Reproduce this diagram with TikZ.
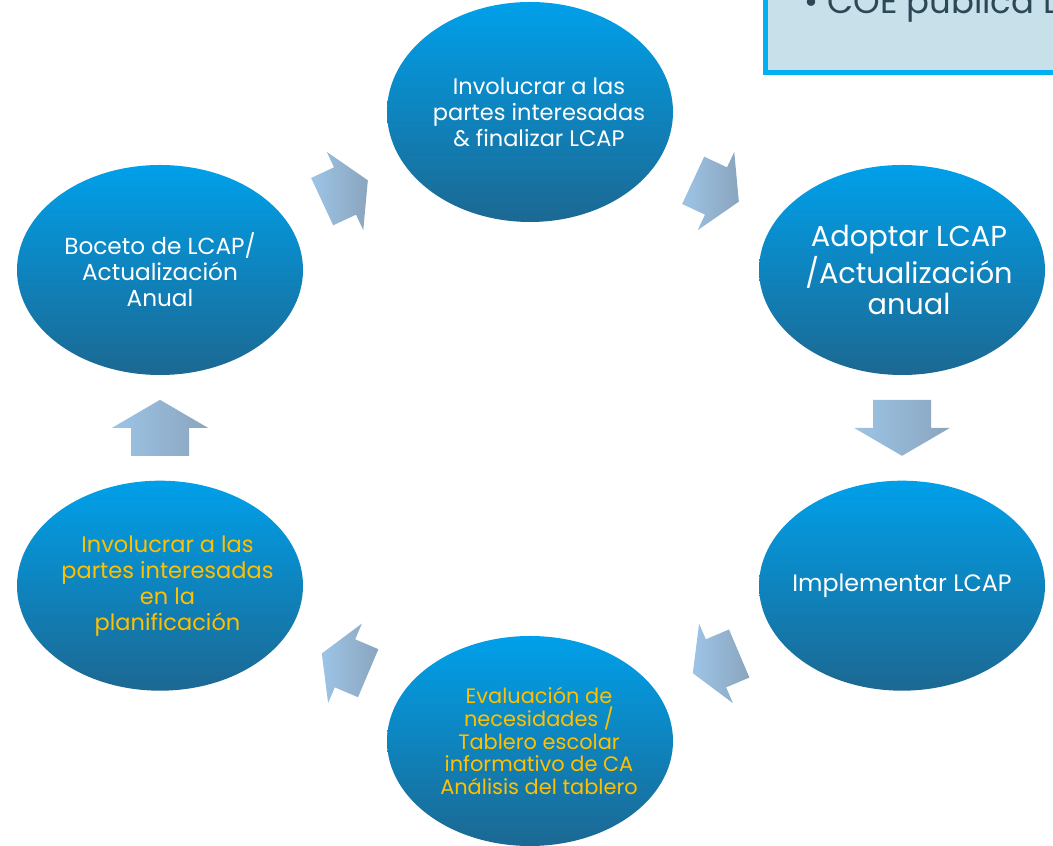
\documentclass[tikz,border=0pt]{standalone}
\usepackage{fontspec}
\setmainfont{Poppins}
\usetikzlibrary{calc,positioning,shapes.geometric}

\definecolor{ellipsetop}{RGB}{0,160,234}
\definecolor{ellipsebottom}{RGB}{28,104,146}
\definecolor{planyellow}{RGB}{255,192,0}
\definecolor{arrowlight}{RGB}{157,196,230}
\definecolor{arrowgray}{RGB}{138,165,190}
\definecolor{boxfill}{RGB}{200,224,233}
\definecolor{boxcyan}{RGB}{0,176,240}
\definecolor{boxtext}{RGB}{44,72,86}

\begin{document}
\begin{tikzpicture}[node distance=2.1cm, auto,
    stage/.style={ellipse, draw=none, minimum width=5.72cm, minimum height=4.2cm,
        top color=ellipsetop, bottom color=ellipsebottom, inner xsep=-0.5cm, inner ysep=0pt,
        align=center, text=white, font=\fontsize{12.8}{14.8}\selectfont},
    planning/.style={stage, text=planyellow},
    bigarrow/.style={draw=none, left color=arrowlight, right color=arrowgray}]

\useasboundingbox (0,0) rectangle (21.06,16.92);
\clip (0,0) rectangle (21.06,16.92);

% note box, top right corner
\draw[boxcyan, fill=boxfill, line width=0.09cm] (15.31,15.47) rectangle (21.6,17.6);
\node[anchor=base west, inner sep=0pt, text=boxtext, font=\fontsize{19.3}{22}\selectfont] (coe) at (16.08,16.64) {\textbullet\ COE publica L};

% the cycle
\node[stage, minimum height=4.4cm] (involfin) at (10.6,14.68) {\hspace*{0.36cm}Involucrar a las\\\hspace*{0.36cm}partes interesadas\\\hspace*{0.36cm}\& finalizar LCAP};
\node[stage, font=\fontsize{16.4}{17.6}\selectfont] (adoptar) at (18.04,11.52) {\hspace*{0.28cm}Adoptar LCAP\\\hspace*{0.28cm}/Actualización\\\hspace*{0.28cm}anual};
\node[stage, below=of adoptar, font=\fontsize{13.5}{15}\selectfont] (implementar) {Implementar LCAP};
\node[planning, font=\fontsize{11.9}{13}\selectfont] (evaluacion) at (10.6,2.1) {\hspace*{0.36cm}Evaluación de\\\hspace*{0.36cm}necesidades /\\\hspace*{0.36cm}Tablero escolar\\\hspace*{0.36cm}informativo de CA\\\hspace*{0.36cm}Análisis del tablero};
\node[stage, font=\fontsize{13.2}{14.8}\selectfont] (boceto) at (3.2,11.52) {Boceto de LCAP/\\Actualización\\Anual};
\node[planning, below=of boceto] (involplan) {\hspace*{0.3cm}Involucrar a las\\\hspace*{0.3cm}partes interesadas\\\hspace*{0.3cm}en la\\\hspace*{0.3cm}planificación};

% block arrows between the stages
\foreach \a/\b/\ang/\s in {boceto/involfin/25/0.9, involfin/adoptar/-25/0.9,
        adoptar/implementar/-90/1, implementar/evaluacion/-157/0.9,
        evaluacion/involplan/157/0.9, involplan/boceto/90/1}
    \path[bigarrow, shift={($(\a)!0.5!(\b)$)}, rotate=\ang, scale=\s]
        (-0.56,-0.58) -- (0,-0.58) -- (0,-0.96) -- (0.56,0) -- (0,0.96) -- (0,0.58) -- (-0.56,0.58) -- cycle;

\end{tikzpicture}
\end{document}
